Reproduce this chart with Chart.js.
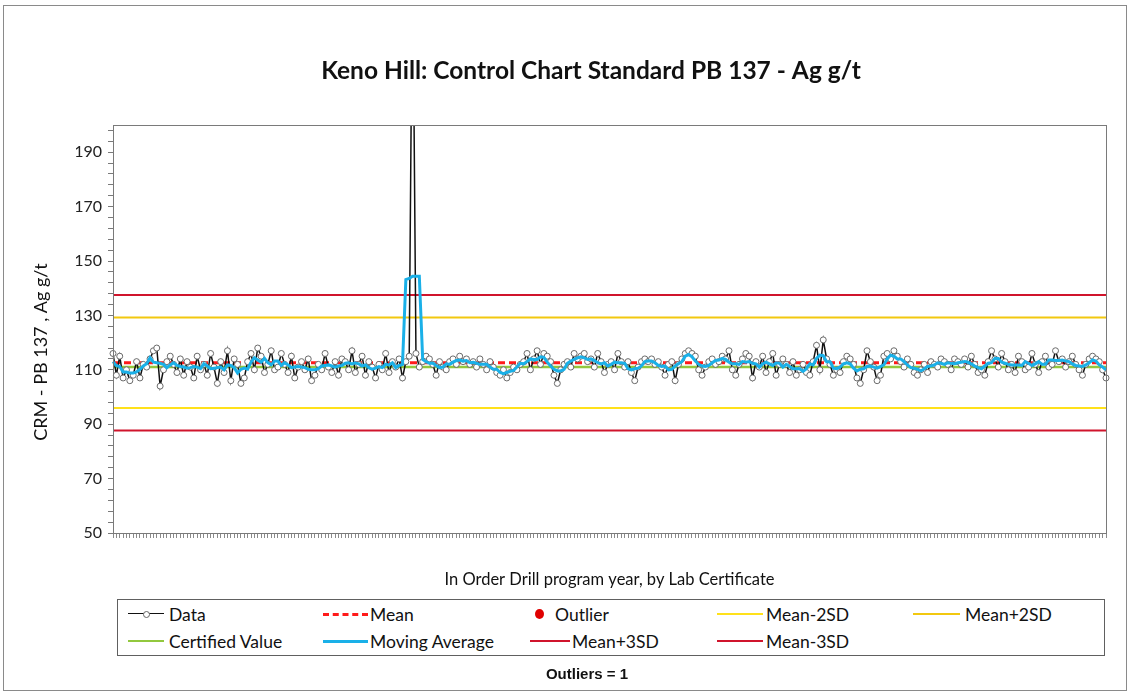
<!DOCTYPE html>
<html>
<head>
<meta charset="utf-8">
<script src="https://cdn.jsdelivr.net/npm/chart.js@4.4.1/dist/chart.umd.min.js"></script>
<style>
  html, body { margin: 0; padding: 0; background: #fff; }
  #page { position: relative; width: 1130px; height: 694px; overflow: hidden; background: #fff; font-family: Lato, "Open Sans", sans-serif; }
  #frame { position: absolute; left: 3px; top: 5px; width: 1122px; height: 684px; border: 1px solid #8a8a8a; pointer-events: none; }
  #c { position: absolute; left: 0; top: 0; }
  #legend { position: absolute; left: 117px; top: 599px; width: 986px; height: 55px; border: 1px solid #606060; background: #fff; }
  .item { position: absolute; height: 20px; display: flex; align-items: center; font-size: 17.5px; color: #111; white-space: nowrap; }
  .mk { position: relative; height: 20px; flex: none; }
  #outl { position: absolute; left: 0; width: 1174px; top: 665px; text-align: center; font-family: "Liberation Sans", Arial, sans-serif; font-weight: bold; font-size: 15px; color: #111; }
</style>
</head>
<body>
<div id="page">
  <canvas id="c" width="1130" height="694"></canvas>
  <div id="frame"></div>
  <div id="legend"></div>
  <div id="outl">Outliers = 1</div>
</div>
<script>
// ---------------- DATA ----------------
const chartTitle = "Keno Hill: Control Chart Standard PB 137 - Ag g/t";
const yAxisTitle = "CRM - PB 137 , Ag g/t";
const xAxisTitle = "In Order Drill program year, by Lab Certificate";

// Ag g/t for each CRM PB 137 sample, in order
const agValues = [
  116,108,115,107,110,106,108,113,107,112,111,114,117,118,104,110,113,115,112,109,114,108,113,111,107,115,110,112,108,116,111,105,113,109,117,106,114,112,105,107,113,116,110,118,115,109,112,117,110,111,
  116,112,109,115,107,111,113,110,114,106,108,112,110,116,111,109,113,108,114,113,110,117,109,112,115,108,113,111,107,112,110,116,109,113,111,114,107,113,115,267,116,111,113,115,114,112,108,113,111,110,
  113,114,112,115,113,114,112,113,111,114,112,110,113,111,109,108,110,107,109,111,110,112,113,116,110,114,117,112,116,115,113,108,105,110,112,113,111,116,114,115,116,113,114,111,116,113,109,112,113,110,
  116,113,111,113,109,106,111,113,114,113,114,112,113,111,108,112,113,106,112,114,116,117,116,115,110,108,111,113,114,112,113,115,114,117,110,108,112,114,116,115,107,113,111,115,109,113,116,108,112,114,
  112,109,113,108,110,112,109,108,113,119,110,121,114,112,108,110,109,113,115,114,112,107,105,110,117,113,111,106,108,115,116,114,117,115,113,111,114,112,109,108,110,112,109,113,112,111,114,113,112,110,
  114,113,112,114,111,115,112,109,110,108,113,117,114,111,116,113,110,112,109,115,113,110,111,116,112,109,113,115,111,112,117,113,114,111,113,115,112,110,108,112,114,115,114,113,110,107
];
const outlierIndex = [89];          // samples flagged as outliers
const meanValue = 112.6;
const sdValue = 8.3;
const certifiedValue = 111.0;
const movingAvgWindow = 5;          // centred moving average

const yMin = 50, yMax = 200, yMajorStep = 20, yMinorStep = 4;

const legendNames = ["Data", "Mean", "Outlier", "Mean-2SD", "Mean+2SD", "Certified Value", "Moving Average", "Mean+3SD", "Mean-3SD"];

// ---------------- derived series ----------------
const sampleLabels = agValues.map((_, i) => String(i + 1));
const flat = v => agValues.map(() => v);
const outlierSeries = agValues.map((v, i) => outlierIndex.includes(i) ? v : null);
const half = Math.floor(movingAvgWindow / 2);
const movingAvg = agValues.map((_, i) => {
  const a = Math.max(0, i - half), b = Math.min(agValues.length - 1, i + half);
  let s = 0; for (let k = a; k <= b; k++) s += agValues[k];
  return s / (b - a + 1);
});

const colors = {
  data: "#111111", mean: "#FF1A1A", outlier: "#E00000",
  m2lo: "#FFE11A", m2hi: "#F2C80F", cert: "#92C83E", ma: "#1AB0E8",
  m3hi: "#D0142C", m3lo: "#D0142C"
};

const lineDs = (label, values, color, width, extra) => Object.assign({
  label, data: values, borderColor: color, backgroundColor: color, borderWidth: width,
  pointRadius: 0, pointHoverRadius: 0, fill: false, tension: 0
}, extra || {});

const datasets = [
  lineDs("Outlier", outlierSeries, colors.outlier, 0, { showLine: false, pointRadius: 5, pointBackgroundColor: colors.outlier, pointBorderWidth: 0 }),
  lineDs("Moving Average", movingAvg, colors.ma, 3),
  lineDs("Data", agValues, colors.data, 1.5, { pointRadius: 3, pointBackgroundColor: "#ffffff", pointBorderColor: "#6a6a6a", pointBorderWidth: 1 }),
  lineDs("Mean", flat(meanValue), colors.mean, 3, { borderDash: [7, 4] }),
  lineDs("Certified Value", flat(certifiedValue), colors.cert, 2.5),
  lineDs("Mean-2SD", flat(meanValue - 2 * sdValue), colors.m2lo, 2),
  lineDs("Mean+2SD", flat(meanValue + 2 * sdValue), colors.m2hi, 2),
  lineDs("Mean+3SD", flat(meanValue + 3 * sdValue), colors.m3hi, 2),
  lineDs("Mean-3SD", flat(meanValue - 3 * sdValue), colors.m3lo, 2)
];

// plugin: plot-area frame and the y-axis title
const framePlugin = {
  id: "framePlugin",
  afterDraw(chart) {
    const { ctx, chartArea: a } = chart;
    ctx.save();
    ctx.strokeStyle = "#7a7a7a";
    ctx.lineWidth = 1;
    ctx.strokeRect(a.left + 0.5, a.top + 0.5, a.right - a.left, a.bottom - a.top);
    ctx.translate(41, 352);
    ctx.rotate(-Math.PI / 2);
    ctx.font = "18px Lato, 'Open Sans', sans-serif";
    ctx.fillStyle = "#111";
    ctx.textAlign = "center";
    ctx.textBaseline = "middle";
    ctx.fillText(yAxisTitle, 0, 0);
    ctx.restore();
  }
};

new Chart(document.getElementById("c"), {
  type: "line",
  data: { labels: sampleLabels, datasets },
  plugins: [framePlugin],
  options: {
    responsive: false,
    animation: false,
    events: [],
    layout: { padding: { left: 76, right: 24, top: 0, bottom: 0 } },
    plugins: {
      legend: { display: false },
      tooltip: { enabled: false },
      title: {
        display: true, text: chartTitle, color: "#111",
        font: { family: "Lato, 'Open Sans', sans-serif", size: 24.5, weight: "bold", lineHeight: 1.2 },
        padding: { top: 56, bottom: 39.6 }
      }
    },
    scales: {
      x: {
        type: "category",
        offset: false,
        grid: { display: true, drawOnChartArea: false, drawTicks: true, tickLength: 5, color: "#8a8a8a" },
        border: { display: true, color: "#7a7a7a" },
        ticks: { autoSkip: false, maxRotation: 0, callback: () => "", font: { size: 1 } },
        title: {
          display: true, text: xAxisTitle, color: "#111",
          font: { family: "Lato, 'Open Sans', sans-serif", size: 16.5, lineHeight: 1.2 },
          padding: { top: 0, bottom: 104 }
        },
        afterFit: s => { s.height = 161; }
      },
      y: {
        type: "linear", min: yMin, max: yMax,
        grid: { display: true, drawOnChartArea: false, drawTicks: true, tickLength: 5, color: "#7a7a7a" },
        border: { display: true, color: "#7a7a7a" },
        afterBuildTicks: s => {
          const t = [];
          for (let v = yMin; v < yMax; v += yMinorStep) t.push({ value: v });
          s.ticks = t;
        },
        ticks: {
          autoSkip: false, padding: 6, color: "#222",
          font: { family: "Lato, 'Open Sans', sans-serif", size: 16 },
          callback: v => ((v - yMin) % yMajorStep === 0 ? String(v) : "")
        },
        afterFit: s => { s.width = 37; }
      }
    }
  }
});

// ---------------- HTML legend ----------------
const legendStyle = {
  "Data": { color: colors.data, kind: "dataline" },
  "Mean": { color: colors.mean, kind: "dash" },
  "Outlier": { color: colors.outlier, kind: "dot" },
  "Mean-2SD": { color: colors.m2lo, kind: "line" },
  "Mean+2SD": { color: colors.m2hi, kind: "line" },
  "Certified Value": { color: colors.cert, kind: "line" },
  "Moving Average": { color: colors.ma, kind: "thick" },
  "Mean+3SD": { color: colors.m3hi, kind: "line" },
  "Mean-3SD": { color: colors.m3lo, kind: "line" }
};
// column layout: [left, marker width, gap]
const colLayout = [[10, 36, 5], [205, 45, 2], [412, 40, 2], [599, 46, 3], [795, 47, 5]];
const rowY = [4, 31];
const leg = document.getElementById("legend");
legendNames.forEach((name, i) => {
  const st = legendStyle[name];
  const [cx, mw, gap] = colLayout[i % 5];
  const item = document.createElement("div");
  item.className = "item";
  item.style.left = cx + "px";
  item.style.top = rowY[Math.floor(i / 5)] + "px";
  const mk = document.createElement("span");
  mk.className = "mk";
  if (st.kind === "dot") {
    mk.style.width = "23px";
    mk.style.marginRight = "2px";
    mk.innerHTML = '<span style="position:absolute;left:5px;top:5px;width:9px;height:10px;border-radius:50%;background:' + st.color + '"></span>';
  } else {
    mk.style.width = mw + "px";
    mk.style.marginRight = gap + "px";
    const hh = st.kind === "thick" ? 3 : (st.kind === "dash" ? 3 : (st.kind === "dataline" ? 1.5 : 2));
    const bs = st.kind === "dash" ? "dashed" : "solid";
    mk.innerHTML = '<span style="position:absolute;left:0;right:0;top:' + (10 - hh / 2) + 'px;border-top:' + hh + 'px ' + bs + ' ' + st.color + '"></span>' +
      (st.kind === "dataline" ? '<span style="position:absolute;left:15px;top:7px;width:5px;height:5px;border:1px solid #666;border-radius:50%;background:#fff"></span>' : '');
  }
  const tx = document.createElement("span");
  tx.textContent = name;
  item.appendChild(mk);
  item.appendChild(tx);
  leg.appendChild(item);
});
</script>
</body>
</html>
